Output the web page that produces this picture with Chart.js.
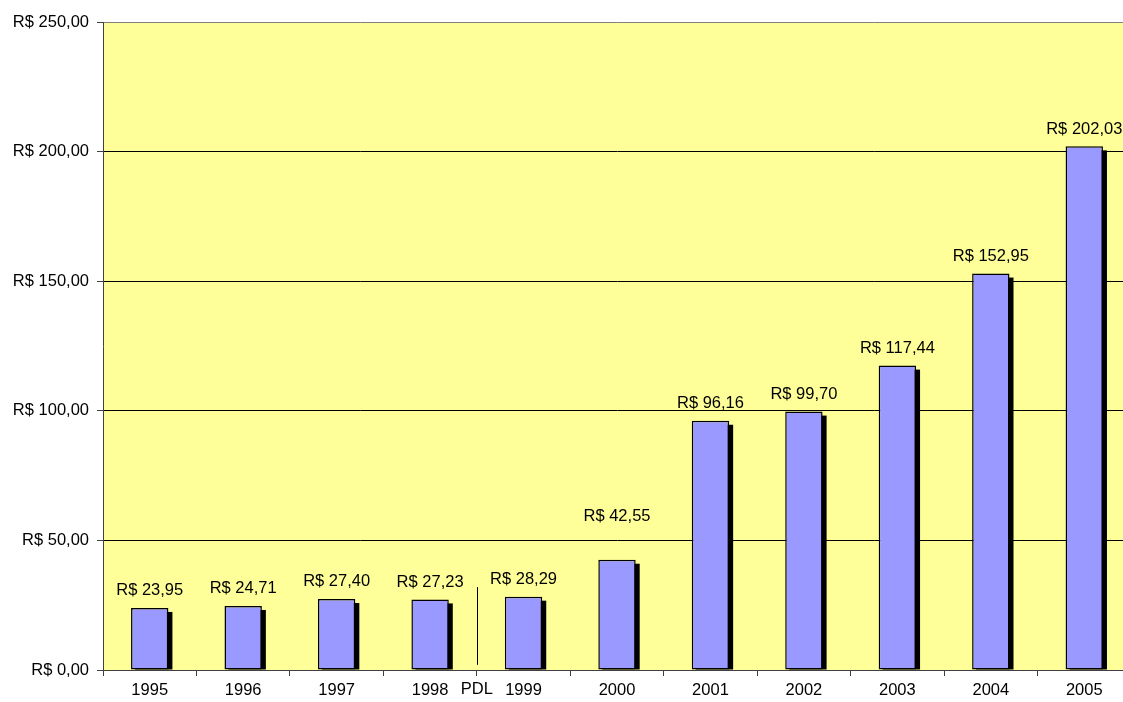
<!DOCTYPE html>
<html>
<head>
<meta charset="utf-8">
<script src="https://cdn.jsdelivr.net/npm/chart.js@4/dist/chart.umd.min.js"></script>
<style>
  html, body { margin: 0; padding: 0; background: #fff; overflow: hidden; }
  #wrap { width: 1131px; height: 702px; }
</style>
</head>
<body>
<div id="wrap"><canvas id="chart" width="1131" height="702"></canvas></div>
<script>
// data
var years = ['1995', '1996', '1997', '1998', '1999', '2000', '2001', '2002', '2003', '2004', '2005'];
var values = [23.95, 24.71, 27.40, 27.23, 28.29, 42.55, 96.16, 99.70, 117.44, 152.95, 202.03];
var yTicks = [0, 50, 100, 150, 200, 250];
var pdlLabel = 'PDL';

var font = { family: '"Liberation Sans", Arial, sans-serif', size: 16.5 };

function brl(v) {
    return 'R$ ' + v.toFixed(2).replace('.', ',');
}

// yellow plot background
var plotBg = {
    id: 'plotBg',
    beforeDraw: function (chart) {
        var a = chart.chartArea, ctx = chart.ctx;
        ctx.save();
        ctx.fillStyle = '#FFFF99';
        ctx.fillRect(a.left, a.top, a.right - a.left, a.bottom - a.top);
        ctx.restore();
    }
};

// black drop shadow behind each bar
var barShadow = {
    id: 'barShadow',
    beforeDatasetsDraw: function (chart) {
        var ctx = chart.ctx;
        ctx.save();
        ctx.fillStyle = '#000';
        chart.getDatasetMeta(0).data.forEach(function (bar) {
            var p = bar.getProps(['x', 'y', 'width', 'base'], true);
            ctx.fillRect(p.x - p.width / 2 + 4, p.y + 4, p.width, p.base - p.y - 4);
        });
        ctx.restore();
    }
};

// value labels above bars, PDL marker between 1998 and 1999
var extras = {
    id: 'extras',
    afterDatasetsDraw: function (chart) {
        var ctx = chart.ctx, y = chart.scales.y, x = chart.scales.x;
        ctx.save();
        ctx.font = font.size + 'px ' + font.family;
        ctx.fillStyle = '#000';
        ctx.textAlign = 'center';
        ctx.textBaseline = 'bottom';
        chart.getDatasetMeta(0).data.forEach(function (bar, i) {
            var lift = (i === 5) ? 26 : 0; // 2000 label sits higher in the original
            ctx.fillText(brl(values[i]), bar.x, bar.y - 9 - lift);
        });

        var bx = (x.getPixelForValue(3) + x.getPixelForValue(4)) / 2;
        ctx.strokeStyle = '#000';
        ctx.lineWidth = 1;
        ctx.beginPath();
        ctx.moveTo(Math.round(bx) + 0.5, y.getPixelForValue(32));
        ctx.lineTo(Math.round(bx) + 0.5, y.getPixelForValue(2));
        ctx.stroke();

        ctx.textBaseline = 'middle';
        ctx.fillText(pdlLabel, bx, chart.chartArea.bottom + 19);
        ctx.restore();
    }
};

var ctx = document.querySelector('#chart').getContext('2d');

var chart = new Chart(ctx, {
    type: 'bar',
    data: {
        labels: years,
        datasets: [{
            data: values,
            backgroundColor: '#9999FF',
            borderColor: '#000',
            borderWidth: 1.5,
            borderSkipped: false,
            barPercentage: 0.4,
            categoryPercentage: 1.0
        }]
    },
    options: {
        responsive: false,
        animation: false,
        layout: { padding: { top: 22, left: 0, right: 0, bottom: 0 } },
        plugins: {
            legend: { display: false },
            tooltip: { enabled: false }
        },
        scales: {
            x: {
                offset: true,
                grid: {
                    offset: true,
                    drawOnChartArea: false,
                    drawTicks: true,
                    tickLength: 6,
                    color: '#404040'
                },
                border: { color: '#404040' },
                ticks: { color: '#000', font: font, padding: 5, maxRotation: 0 },
                afterFit: function (s) { s.height = 32; }
            },
            y: {
                min: 0,
                max: 250,
                afterBuildTicks: function (s) {
                    s.ticks = yTicks.map(function (v) { return { value: v }; });
                },
                grid: {
                    color: function (c) {
                        return (c.tick && c.tick.value === 250) ? '#808080' : '#000';
                    },
                    tickColor: '#404040',
                    tickLength: 6
                },
                border: { color: '#404040' },
                ticks: {
                    color: '#000',
                    font: font,
                    padding: 8,
                    callback: function (v) { return brl(v); }
                },
                afterFit: function (s) { s.width = 103; }
            }
        }
    },
    plugins: [plotBg, barShadow, extras]
});
</script>
</body>
</html>
